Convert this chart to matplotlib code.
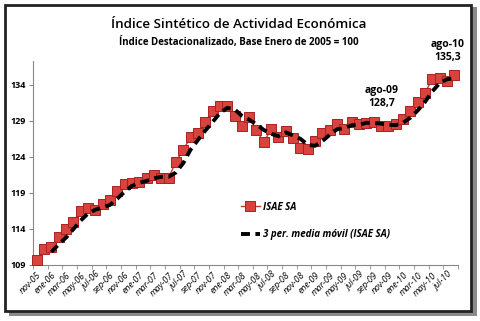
import numpy as np
import pandas as pd
import matplotlib
matplotlib.use("Agg")
import matplotlib.pyplot as plt
from matplotlib.patches import Rectangle

months_es = ["ene", "feb", "mar", "abr", "may", "jun", "jul", "ago", "sep", "oct", "nov", "dic"]
periods = pd.period_range("2005-11", "2010-08", freq="M")
labels = [f"{months_es[p.month - 1]}-{p.year % 100:02d}" for p in periods]

isae = [109.7, 111.2, 111.5, 112.9, 114.0, 115.0, 116.5, 116.9, 116.6, 117.4,
        118.0, 119.2, 120.3, 120.4, 120.5, 121.1, 121.5, 121.1, 121.1, 123.3,
        125.0, 126.7, 127.3, 128.9, 130.3, 131.0, 131.1, 129.7, 128.3, 129.5,
        127.7, 126.0, 127.9, 126.7, 127.6, 126.6, 125.3, 125.1, 126.2, 127.3,
        127.7, 128.5, 127.8, 128.9, 128.6, 128.7, 128.8, 128.3, 128.3, 128.6,
        129.3, 130.4, 131.6, 132.9, 134.8, 135.0, 134.5, 135.3]
yticks = [109, 114, 119, 124, 129, 134]

font = "Open Sans"
W, H = 481, 321
fig = plt.figure(figsize=(W / 100, H / 100), dpi=100)

# frame with shadow
fig.patches.append(Rectangle((9 / W, 1 - 316 / H), 468 / W, 309 / H, transform=fig.transFigure,
                             facecolor="#8a8a8a", edgecolor="none", zorder=-3))
fig.patches.append(Rectangle((5 / W, 1 - 311 / H), 466 / W, 306 / H, transform=fig.transFigure,
                             facecolor="white", edgecolor="#222222", linewidth=2, zorder=-2))

ax = fig.add_axes([33 / W, 1 - 265 / H, (458 - 33) / W, (265 - 61) / H])
ax.set_facecolor("none")
x = np.arange(len(isae))
ma = pd.Series(isae).rolling(3).mean()

ax.plot(x, isae, color="#c0392b", lw=1.0, marker="s", markersize=6.8,
        markerfacecolor="#d8433d", markeredgecolor="#a82222", markeredgewidth=0.7,
        zorder=3, label="ISAE SA", clip_on=False)
ax.plot(x, ma, color="black", lw=2.8, dashes=(2.3, 1.4), zorder=4,
        label="3 per. media móvil (ISAE SA)")

ax.set_xlim(-0.5, len(isae) - 0.5)
ax.set_ylim(109, 137.3)
ax.set_yticks(yticks)
ax.set_yticklabels([str(v) for v in yticks], fontsize=6.5, fontweight="bold", family=font)
ax.set_xticks(x[::2])
ax.set_xticklabels(labels[::2], rotation=45, ha="right", rotation_mode="anchor",
                   fontsize=6.3, fontstyle="italic", family=font)
ax.set_xticks(np.arange(-0.5, len(isae), 2), minor=True)
ax.tick_params(axis="x", which="major", length=0, pad=4)
ax.tick_params(axis="x", which="minor", length=3, color="#888888")
ax.tick_params(axis="y", length=3, color="#888888", pad=2)
for s in ["top", "right"]:
    ax.spines[s].set_visible(False)
for s in ["left", "bottom"]:
    ax.spines[s].set_color("#888888")
    ax.spines[s].set_linewidth(0.8)

fig.text(239 / W, 1 - 25 / H, "Índice Sintético de Actividad Económica", ha="center", va="center",
         fontsize=9.6, family=font, fontweight="semibold")
fig.text(239 / W, 1 - 42 / H, "Índice Destacionalizado, Base Enero de 2005 = 100", ha="center",
         va="center", fontsize=7, family=font, fontweight="bold")

i9 = labels.index("ago-09")
ax.annotate(f"ago-09\n{isae[i9]:.1f}".replace(".", ","), xy=(i9, isae[i9]), xytext=(11, 10),
            textcoords="offset points", ha="center", va="bottom", fontsize=7.5,
            fontweight="bold", family=font, linespacing=1.3)
i10 = labels.index("ago-10")
ax.annotate(f"ago-10\n{isae[i10]:.1f}".replace(".", ","), xy=(i10, isae[i10]), xytext=(-5, 9),
            textcoords="offset points", ha="center", va="bottom", fontsize=7.5,
            fontweight="bold", family=font, linespacing=1.3, annotation_clip=False)

leg = ax.legend(loc="upper left", bbox_to_anchor=((232 - 33) / (458 - 33), (265 - 193) / (265 - 61)),
                frameon=False, labelspacing=1.7, handlelength=2.0, handletextpad=0.3,
                prop={"family": font, "size": 7, "style": "italic", "weight": "bold"})

fig.savefig("out.png", dpi=100)
